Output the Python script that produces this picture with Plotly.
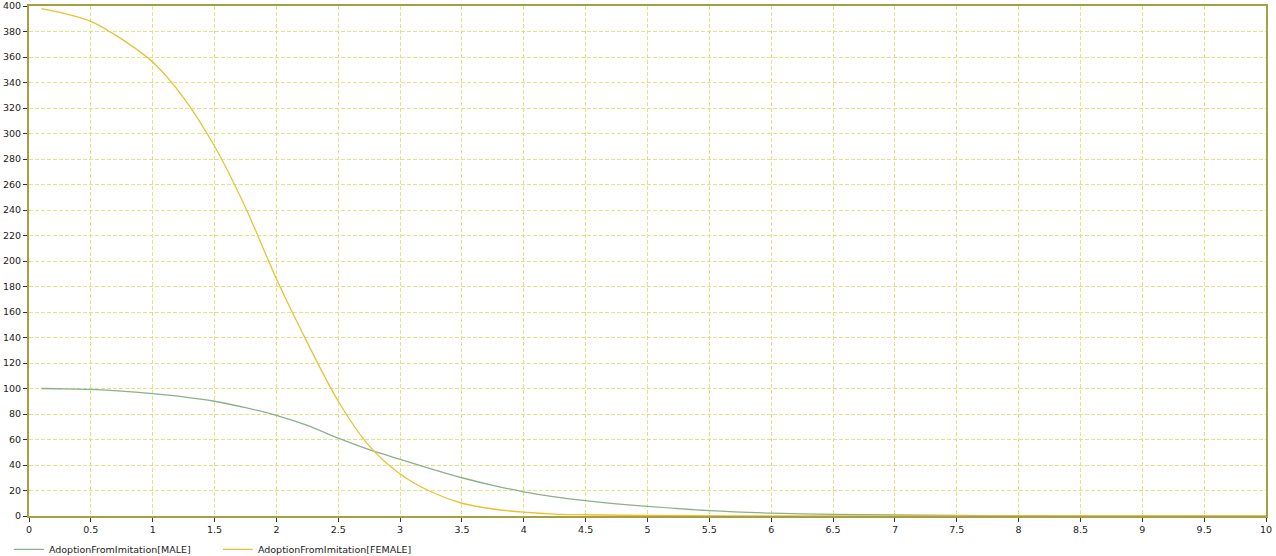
import plotly.graph_objects as go

# Data
time_male = [0.1, 0.25, 0.5, 0.75, 1.0, 1.25, 1.5, 1.75, 2.0, 2.25, 2.5, 2.75, 3.0, 3.25, 3.5,
             3.75, 4.0, 4.25, 4.5, 4.75, 5.0, 5.5, 6.0, 6.5, 7.0, 7.5, 8.0, 9.0, 10.0]
male = [100, 99.8, 99.3, 98, 96, 93.5, 90, 85, 79, 71, 61, 52, 44.5, 37, 30,
        24, 19, 15, 12, 9.5, 7.5, 4.2, 2.3, 1.3, 0.8, 0.4, 0.2, 0.05, 0]

time_female = [0.1, 0.25, 0.5, 0.75, 1.0, 1.25, 1.5, 1.75, 2.0, 2.25, 2.5, 2.75, 3.0, 3.25,
               3.5, 3.75, 4.0, 4.25, 4.5, 5.0, 6.0, 10.0]
female = [398, 395, 388, 374, 356, 328, 290, 242, 186, 136, 90, 55, 33, 19,
          10, 5.5, 3, 1.5, 1, 0.4, 0.1, 0]

x_ticks = [i * 0.5 for i in range(21)]
x_labels = ["0", "0.5", "1", "1.5", "2", "2.5", "3", "3.5", "4", "4.5", "5", "5.5",
            "6", "6.5", "7", "7.5", "8", "8.5", "9", "9.5", "10"]
y_ticks = list(range(0, 401, 20))

fig = go.Figure()
fig.add_trace(go.Scatter(x=time_male, y=male, mode="lines",
                         name="AdoptionFromImitation[MALE]",
                         line=dict(color="#8fae8c", width=1.3, shape="spline", smoothing=0.8)))
fig.add_trace(go.Scatter(x=time_female, y=female, mode="lines",
                         name="AdoptionFromImitation[FEMALE]",
                         line=dict(color="#e8c232", width=1.3, shape="spline", smoothing=0.8)))

grid_color = "#e2e288"
tick_font = dict(family="DejaVu Sans", size=9.5, color="#222222")
fig.update_xaxes(range=[0, 10], tickvals=x_ticks, ticktext=x_labels, automargin=False,
                 showgrid=True, gridcolor=grid_color, griddash="4px,2px", gridwidth=1.2,
                 showline=True, linecolor="#a8a040", linewidth=2, mirror=True,
                 ticks="outside", ticklen=4, tickcolor="#333333",
                 zeroline=False, tickfont=tick_font)
fig.update_yaxes(range=[0, 400], tickvals=y_ticks, automargin=False,
                 showgrid=True, gridcolor=grid_color, griddash="4px,2px", gridwidth=1.2,
                 showline=True, linecolor="#a8a040", linewidth=2, mirror=True,
                 ticks="outside", ticklen=4, tickcolor="#333333",
                 zeroline=False, tickfont=tick_font)

fig.update_layout(
    width=1276, height=556,
    margin=dict(l=29, r=10, t=6, b=40, autoexpand=False),
    plot_bgcolor="white", paper_bgcolor="white",
    showlegend=True,
    legend=dict(orientation="h", xref="container", yref="container",
                x=0.007, xanchor="left", y=0.038, yanchor="top",
                font=dict(family="DejaVu Sans", size=9.5, color="#222222"),
                entrywidth=164, entrywidthmode="pixels",
                bgcolor="rgba(0,0,0,0)", tracegroupgap=0),
)

fig.write_html("out.html", config={"displayModeBar": False},
               post_script="document.body.style.margin='0';document.body.style.overflow='hidden';")
